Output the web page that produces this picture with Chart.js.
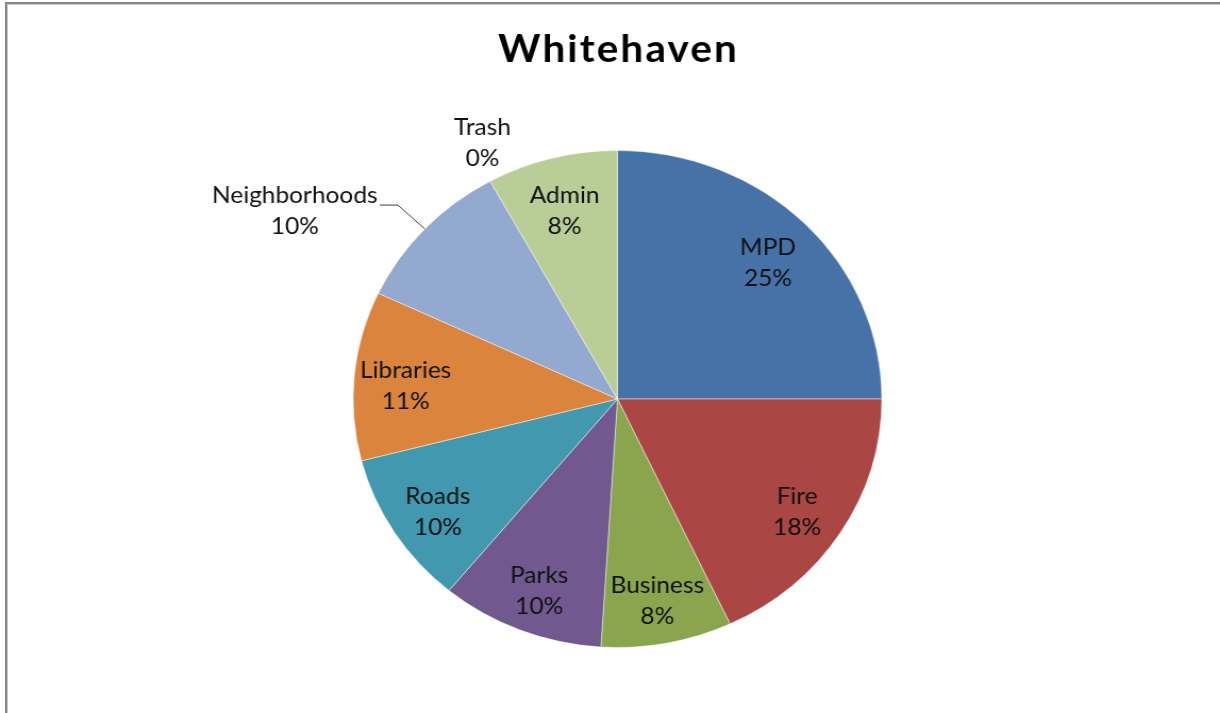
<!DOCTYPE html>
<html>
<head>
<meta charset="utf-8">
<title>Whitehaven</title>
<script src="https://cdn.jsdelivr.net/npm/chart.js@4/dist/chart.umd.min.js"></script>
<style>
  html, body { margin: 0; padding: 0; background: #fff; overflow: hidden; }
  #wrap { position: relative; width: 1220px; height: 713px; overflow: hidden; }
  /* the sheet chart is a little wider than tall, so stretch the canvas sideways */
  #chart { position: absolute; left: 0; top: 0; transform: scaleX(1.0637); transform-origin: 0 0; }
  #frame {
    position: absolute; left: 5px; top: 2px; right: -20px; bottom: -20px;
    border-top: 2px solid #878787; border-left: 2px solid #878787;
    box-shadow: inset 1px 1px 0 #c8c8c8; pointer-events: none;
  }
</style>
</head>
<body>
<div id="wrap">
  <canvas id="chart" width="1147" height="713"></canvas>
  <div id="frame"></div>
</div>
<script>
const chartTitle = 'Whitehaven';
const departments = ['MPD', 'Fire', 'Business', 'Parks', 'Roads', 'Libraries', 'Neighborhoods', 'Trash', 'Admin'];
const shares = [25, 18, 8, 10, 10, 11, 10, 0, 8];
const sliceColors = ['#4672A8', '#AA4643', '#89A54E', '#71588F', '#4198AF', '#DB843D', '#93A9CF', '#D19392', '#B9CD96'];
// where each data label goes: inside the slice, outside it, or outside with a leader line
const labelPlacement = ['inside', 'inside', 'inside', 'inside', 'inside', 'inside', 'leader', 'outside', 'inside'];

const labelFont = '23px Lato';
const labelLine = 31;
const labelDrop = 6;   // labels sit slightly below their anchor point

const titlePlugin = {
  id: 'sheetTitle',
  afterDraw(chart) {
    const ctx = chart.ctx;
    const area = chart.chartArea;
    ctx.save();
    ctx.font = 'bold 38px Lato';
    ctx.letterSpacing = '2px';
    ctx.fillStyle = '#000';
    ctx.textAlign = 'center';
    ctx.textBaseline = 'alphabetic';
    ctx.fillText(chartTitle, (area.left + area.right) / 2 + 1, 62);
    ctx.restore();
  }
};

const sliceLabels = {
  id: 'sliceLabels',
  afterDatasetsDraw(chart) {
    const ctx = chart.ctx;
    const meta = chart.getDatasetMeta(0);
    const total = shares.reduce((a, b) => a + b, 0);
    ctx.save();
    ctx.font = labelFont;
    ctx.fillStyle = '#111';
    ctx.textAlign = 'center';
    ctx.textBaseline = 'middle';
    meta.data.forEach((arc, i) => {
      const p = arc.getProps(['x', 'y', 'startAngle', 'endAngle', 'outerRadius'], true);
      const mid = (p.startAngle + p.endAngle) / 2;
      const cos = Math.cos(mid), sin = Math.sin(mid);
      const lines = [departments[i], Math.round(shares[i] / total * 100) + '%'];
      const w = Math.max(...lines.map(t => ctx.measureText(t).width));
      const h = labelLine * 1.6;
      let cx, cy;
      if (labelPlacement[i] === 'inside') {
        cx = p.x + cos * p.outerRadius * 0.805;
        cy = p.y + sin * p.outerRadius * 0.805 + labelDrop;
      } else if (labelPlacement[i] === 'outside') {
        // centred over a point just past the rim, box edge resting on it
        const ax = p.x + cos * p.outerRadius * 1.06, ay = p.y + sin * p.outerRadius * 1.06;
        cx = ax;
        cy = ay + Math.sign(sin) * h / 2;
      } else {
        const ex = p.x + cos * p.outerRadius, ey = p.y + sin * p.outerRadius;
        const bx = p.x + cos * p.outerRadius * 1.14, by = p.y + sin * p.outerRadius * 1.14;
        const tx = bx - 17;
        ctx.strokeStyle = '#404040';
        ctx.lineWidth = 1;
        ctx.beginPath();
        ctx.moveTo(ex, ey);
        ctx.lineTo(bx, by);
        ctx.lineTo(tx, by);
        ctx.stroke();
        cx = tx - 2 - w / 2;
        cy = by + 6;
      }
      ctx.fillText(lines[0], cx, cy - labelLine / 2);
      ctx.fillText(lines[1], cx, cy + labelLine / 2);
    });
    ctx.restore();
  }
};

new Chart(document.getElementById('chart'), {
  type: 'pie',
  data: {
    labels: departments,
    datasets: [{
      data: shares,
      backgroundColor: sliceColors,
      borderColor: 'rgba(255,255,255,0.45)',
      borderWidth: 1,
      hoverOffset: 0
    }]
  },
  options: {
    responsive: false,
    animation: false,
    devicePixelRatio: 1,
    layout: { padding: { top: 150, bottom: 65, left: 14, right: 0 } },
    plugins: {
      legend: { display: false },
      tooltip: { enabled: false }
    }
  },
  plugins: [sliceLabels, titlePlugin]
});
</script>
</body>
</html>
